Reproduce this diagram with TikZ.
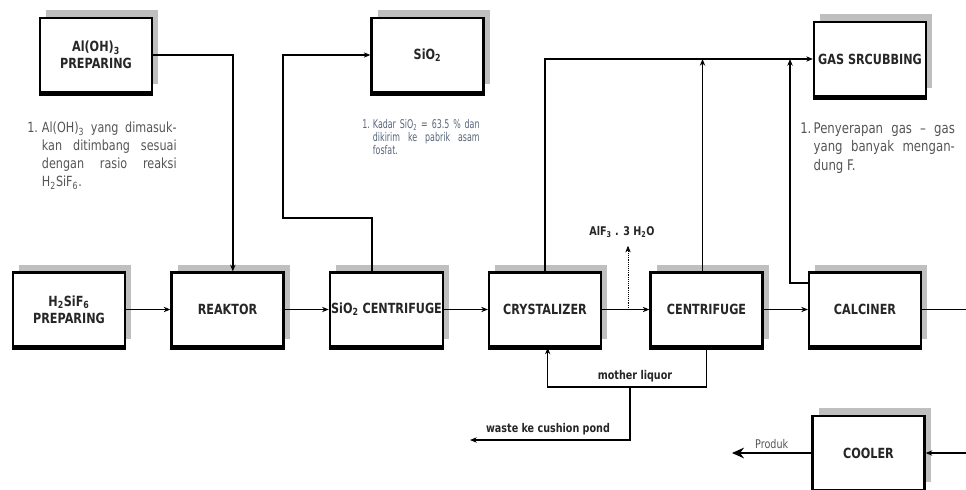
\documentclass[tikz,border=0pt]{standalone}
\usepackage{fontspec}
\setmainfont{DejaVu Sans}[FakeStretch=0.8]
\newfontfamily\narrowfont{DejaVu Sans}[FakeStretch=0.66]
\usepackage{tikz}
\usetikzlibrary{positioning,calc,arrows.meta,shadows}

\definecolor{notegray}{HTML}{555555}
\definecolor{noteblue}{HTML}{56657A}

\begin{document}
\begin{tikzpicture}[x=0.75pt, y=-0.75pt, >={Stealth[length=5pt,width=4pt]}]
    \tikzstyle{unit box} = [rectangle, draw, line width=1.7pt, minimum width=84pt, minimum height=55.5pt, inner sep=1pt, align=center, fill=white, text=black!85, font=\bfseries\fontsize{10.5}{12.5}\selectfont, drop shadow={shadow xshift=4.5pt, shadow yshift=6pt, fill=black!25, opacity=1}]
    \tikzstyle{flow} = [line width=1.2pt]
    \tikzstyle{small label} = [inner sep=1pt, text=black!85, font=\bfseries\fontsize{9}{10}\selectfont]
    \tikzstyle{note text} = [inner sep=0pt, anchor=north west, text=notegray]
    \useasboundingbox (0,0) rectangle (966,489);

    % units
    \node[unit box] (alprep) at (96,55) {Al(OH)\textsubscript{3}\\PREPARING};
    \node[unit box] (silica) at (427.5,55) {SiO\textsubscript{2}};
    \node[unit box] (scrub) at (870,59) {GAS SRCUBBING};
    \node[unit box] (hprep) at (69,309.5) {H\textsubscript{2}SiF\textsubscript{6}\\PREPARING};
    \node[unit box] (reaktor) at (227.5,309.5) {REAKTOR};
    \node[unit box] (siocent) at (386.5,309.5) {SiO\textsubscript{2} CENTRIFUGE};
    \node[unit box] (cryst) at (545,309.5) {CRYSTALIZER};
    \node[unit box] (centr) at (706.5,309.5) {CENTRIFUGE};
    \node[unit box] (calc) at (865,309.5) {CALCINER};
    \node[unit box] (cooler) at (868.5,453) {COOLER};
    \foreach \n in {alprep,silica,scrub,hprep,reaktor,siocent,cryst,centr,calc,cooler}
        \draw[line width=2.4pt] ([yshift=-0.8pt]\n.south west) -- ([yshift=-0.8pt]\n.south east);

    % notes
    \node[note text, font=\fontsize{10.5}{13.5}\selectfont] (alnote) at (27,120) {%
        \begin{tabular}{@{}l@{}l@{}}
        \makebox[11pt][l]{1.} & \makebox[101pt][s]{Al(OH)\textsubscript{3} yang dimasuk-}\\
         & \makebox[101pt][s]{kan ditimbang sesuai}\\
         & \makebox[101pt][s]{dengan rasio reaksi}\\
         & H\textsubscript{2}SiF\textsubscript{6}.
        \end{tabular}};
    \node[note text, text=noteblue, font=\narrowfont\fontsize{9}{9.75}\selectfont] (sionote) at (362,119) {%
        \begin{tabular}{@{}l@{}l@{}}
        \makebox[8pt][l]{1.} & \makebox[80pt][s]{Kadar SiO\textsubscript{2} = 63.5 \% dan}\\
         & \makebox[80pt][s]{dikirim ke pabrik asam}\\
         & fosfat.
        \end{tabular}};
    \node[note text, font=\fontsize{11}{13.9}\selectfont] (gasnote) at (800,120) {%
        \begin{tabular}{@{}l@{}l@{}}
        \makebox[10pt][l]{1.} & \makebox[106pt][s]{Penyerapan gas -- gas}\\
         & \makebox[106pt][s]{yang banyak mengan-}\\
         & dung F.
        \end{tabular}};

    % feed lines
    \draw[flow,->] (alprep.east) -| ([xshift=4pt]reaktor.north);
    \coordinate (siobend) at (283,218);
    \draw[flow,->] ([xshift=-11pt]siocent.north) |- (siobend) |- (silica.west);

    % off-gas header
    \draw[flow,->] (cryst.north) |- (scrub.west);
    \draw[flow,->] ([xshift=-3pt]centr.north) -- ([xshift=-3pt]centr.north |- scrub.west);
    \coordinate (calcup) at (790,59);
    \draw[flow,->] ([yshift=20pt]calc.west) -| (calcup);

    % main line
    \draw[flow,->] (hprep) -- (reaktor);
    \draw[flow,->] (reaktor) -- (siocent);
    \draw[flow,->] (siocent) -- (cryst);
    \draw[flow,->] (cryst) -- (centr);
    \draw[flow,->] (centr) -- (calc);
    \coordinate (calcout) at (966,309.5);
    \draw[flow] (calc) -- (calcout);
    \coordinate (coolin) at (966,453);
    \draw[flow,->] (coolin) -- (cooler);
    \coordinate (produkend) at (732,453);
    \draw[flow,-{Stealth[length=9pt,width=8pt]}] (cooler) -- node[above=2pt, inner sep=1pt, text=notegray, font=\fontsize{9}{10}\selectfont] {Produk} (produkend);

    % crystals
    \node[small label] (alf) at (622,232) {AlF\textsubscript{3} . 3 H\textsubscript{2}O};
    \coordinate (alfbase) at (628,309.5);
    \draw[densely dotted, ->] (alfbase) -- ([yshift=-5pt]alfbase |- alf.south);

    % mother liquor and waste
    \coordinate (mlsplit) at (630,387);
    \draw[flow,->] (centr.south) |- (mlsplit) -| ([xshift=2pt]cryst.south);
    \node[small label] (mllabel) at (635,376) {mother liquor};
    \coordinate (wasteend) at (470,440);
    \draw[flow,->] (mlsplit) |- (wasteend);
    \node[small label] (wastelabel) at (548,429) {waste ke cushion pond};
\end{tikzpicture}
\end{document}
